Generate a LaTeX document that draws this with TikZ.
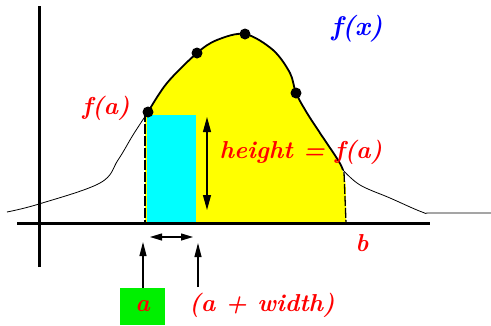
\documentclass[tikz,border=0pt]{standalone}
\usetikzlibrary{arrows.meta}
\definecolor{ared}{RGB}{255,0,0}
\definecolor{ablue}{RGB}{0,0,255}
\definecolor{ayellow}{RGB}{255,255,0}
\definecolor{acyan}{RGB}{0,255,255}
\definecolor{agreen}{RGB}{0,240,0}
\tikzset{
  lab/.style={text=ared,font=\fontsize{24.5}{25}\selectfont\bfseries\itshape,inner sep=0pt},
  dotnode/.style={circle,fill=black,inner sep=0pt,minimum size=11pt},
  axisline/.style={line width=3pt},
  thincurve/.style={line width=0.8pt},
  thickcurve/.style={line width=1.8pt},
  arr/.style={line width=1.1pt,-{Triangle[length=14pt,width=7pt]}},
  darr/.style={line width=1.1pt,{Triangle[length=12pt,width=7pt]}-{Triangle[length=12pt,width=7pt]}},
}
\begin{document}
\begin{tikzpicture}[x=1pt,y=-1pt]
\useasboundingbox (0,0) rectangle (491,325);
% yellow area
\fill[ayellow] (145,223) -- (145,112) -- plot[smooth,tension=0.55] coordinates {(148,112) (167,83) (197,53) (217,40) (245,34) (273,50) (290,73) (296,93) (307,113) (320,133) (338,160) (345,180) (346,200) (346,223)} -- cycle;
% cyan rectangle
\fill[acyan] (147,115) rectangle (196,222);
% thin curve
\draw[thincurve] plot[smooth,tension=0.6] coordinates {(7,212) (39,204) (100,183) (118,160) (133,135) (148,112)};
\draw[thincurve] plot[smooth,tension=0.6] coordinates {(343,170) (360,185) (390,198) (422,212) (432,213) (491,213)};
% thick top curve
\draw[thickcurve] plot[smooth,tension=0.55] coordinates {(148,112) (167,83) (197,53) (217,40) (245,34) (273,50) (290,73) (296,93) (307,113) (320,133) (338,160) (343,170)};
% dashed edges
\draw[line width=1.3pt,dash pattern=on 10pt off 2pt] (145,112) -- (145,223);
\draw[line width=1.3pt,dash pattern=on 10pt off 2pt] (344,172) -- (346,223);
% axes
\coordinate (yb) at (39,267); \coordinate (yt) at (39,6);
\coordinate (xl) at (17,223); \coordinate (xr) at (430,223);
\draw[axisline] (yb) -- (yt);
\draw[axisline] (xl) -- (xr);
% dots
\node[dotnode] (d1) at (148,112) {};
\node[dotnode] (d2) at (197,53) {};
\node[dotnode] (d3) at (245,34) {};
\node[dotnode] (d4) at (296,93) {};
% height arrow
\coordinate (ht) at (207,117); \coordinate (hb) at (207,210);
\draw[line width=1.1pt,{Triangle[length=15pt,width=8pt]}-{Triangle[length=15pt,width=8pt]}] (ht) -- (hb);
% width arrow
\coordinate (wl) at (150,237); \coordinate (wr) at (193,237);
\draw[darr] (wl) -- (wr);
% labels
\node[lab] (fa) at (106,108) {f(a)};
\node[lab] (hl) at (301,152) {height = f(a)};
\node[lab,text=ablue,font=\fontsize{27}{27}\selectfont\bfseries\itshape] (fx) at (357,29) {f(x)};
\node[lab] (b) at (362,243) {b};
\node[lab,fill=agreen,minimum width=45pt,minimum height=37pt] (a) at (142.5,306.5) {a};
\node[lab] (aw) at (262,305) {(a + width)};
% bottom arrows
\coordinate (a0) at (143,242);
\coordinate (w0) at (198,243);
\draw[arr] (a.north -| a0) -- (a0);
\draw[arr] (198,287) -- (w0);
\end{tikzpicture}
\end{document}
